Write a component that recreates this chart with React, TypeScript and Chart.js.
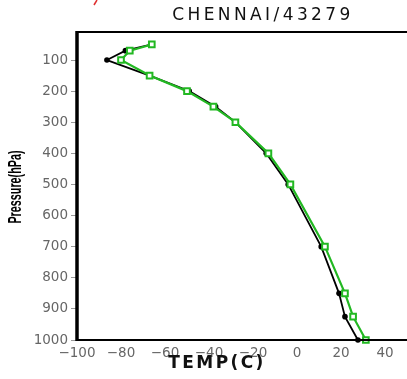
import React, { useEffect, useRef } from "react";
import { Chart, registerables } from "chart.js";

Chart.register(...registerables);

const TITLE = "CHENNAI/43279";
const X_TITLE = "TEMP(C)";
const Y_TITLE = "Pressure(hPa)";

const GREEN_P = [50, 70, 100, 150, 200, 250, 300, 400, 500, 700, 850, 925, 1000];
const GREEN_T = [-66, -76, -80, -67, -50, -38, -28, -13, -3, 12.7, 21.8, 25.5, 31.3];

const BLACK_P = [50, 70, 100, 150, 200, 250, 300, 400, 500, 700, 850, 925, 1000];
const BLACK_T = [-66, -78, -86.4, -67, -49, -37, -28, -14, -4, 11, 19.1, 21.8, 27.7];

const X_TICKS = [-100, -80, -60, -40, -20, 0, 20, 40];
const Y_TICKS = [100, 200, 300, 400, 500, 600, 700, 800, 900, 1000];

const framePlugin = {
  id: "frame",
  afterDraw(chart: any) {
    const { ctx, chartArea } = chart;
    const { left, right, top, bottom } = chartArea;
    ctx.save();
    ctx.strokeStyle = "#000";
    ctx.lineWidth = 2;
    ctx.beginPath();
    ctx.moveTo(left, top);
    ctx.lineTo(right, top);
    ctx.moveTo(left, bottom);
    ctx.lineTo(right, bottom);
    ctx.stroke();
    ctx.lineWidth = 3.5;
    ctx.beginPath();
    ctx.moveTo(left, top - 1);
    ctx.lineTo(left, bottom + 1);
    ctx.stroke();

    ctx.fillStyle = "#111";
    ctx.font = "17px 'DejaVu Sans'";
    (ctx as any).letterSpacing = "3.4px";
    ctx.textAlign = "center";
    ctx.textBaseline = "middle";
    ctx.fillText(TITLE, 263, 16);

    ctx.font = "bold 17px 'DejaVu Sans'";
    (ctx as any).letterSpacing = "2.4px";
    ctx.fillText(X_TITLE, 217, 364);

    (ctx as any).letterSpacing = "0px";
    ctx.fillStyle = "#000";
    ctx.translate(16, 187);
    ctx.rotate(-Math.PI / 2);
    ctx.scale(0.72, 1.25);
    ctx.font = "bold 15px 'Liberation Sans'";
    ctx.fillText(Y_TITLE, 0, 0);
    ctx.restore();

    ctx.save();
    ctx.strokeStyle = "#e03030";
    ctx.lineWidth = 1.5;
    ctx.beginPath();
    ctx.moveTo(97, 0);
    ctx.lineTo(94, 5);
    ctx.stroke();
    ctx.restore();
  },
};

export default function App() {
  const ref = useRef<HTMLCanvasElement | null>(null);
  useEffect(() => {
    if (!ref.current) return;
    const chart = new Chart(ref.current, {
      type: "scatter",
      data: {
        datasets: [
          {
            label: "green",
            data: GREEN_P.map((p, i) => ({ x: GREEN_T[i], y: p })),
            showLine: true,
            clip: false,
            borderColor: "#22b822",
            borderWidth: 2.2,
            pointStyle: "rect",
            pointRadius: 4,
            pointBorderWidth: 2,
            pointBackgroundColor: "#ffffff",
            pointBorderColor: "#22b822",
          },
          {
            label: "black",
            data: BLACK_P.map((p, i) => ({ x: BLACK_T[i], y: p })),
            showLine: true,
            clip: false,
            borderColor: "#000000",
            borderWidth: 1.8,
            pointStyle: "circle",
            pointRadius: 2.8,
            pointBorderWidth: 0,
            pointBackgroundColor: "#000000",
          },
        ],
      },
      options: {
        animation: false,
        responsive: false,
        maintainAspectRatio: false,
        layout: { autoPadding: false, padding: { top: 32, left: 0, right: 0, bottom: 0 } },
        plugins: { legend: { display: false }, tooltip: { enabled: false }, title: { display: false } },
        scales: {
          x: {
            type: "linear",
            min: -100,
            max: 50,
            afterBuildTicks: (s: any) => {
              s.ticks = X_TICKS.map((v) => ({ value: v }));
            },
            afterFit: (s: any) => {
              s.height = 39;
              s.paddingRight = 0;
              s.paddingLeft = 0;
            },
            border: { display: false },
            grid: { drawOnChartArea: false, drawTicks: false },
            ticks: {
              padding: 5,
              color: "#666",
              font: { family: "'DejaVu Sans'", size: 13.5 },
              maxRotation: 0,
              autoSkip: false,
              callback: (v: any) => (Number(v) < 0 ? "\u2212" + Math.abs(Number(v)) : String(v)),
            },
          },
          y: {
            type: "linear",
            reverse: true,
            min: 10,
            max: 1000,
            afterBuildTicks: (s: any) => {
              s.ticks = Y_TICKS.map((v) => ({ value: v }));
            },
            afterFit: (s: any) => {
              s.width = 77;
              s.paddingTop = 0;
              s.paddingBottom = 0;
            },
            border: { display: false },
            grid: { drawOnChartArea: false, drawTicks: true, tickLength: 6, color: "#999" },
            ticks: {
              padding: 3,
              color: "#666",
              font: { family: "'DejaVu Sans'", size: 13.5 },
              autoSkip: false,
              callback: (v: any) => String(v),
            },
          },
        },
      },
      plugins: [framePlugin],
    });
    return () => chart.destroy();
  }, []);
  return (
    <div style={{ position: "absolute", left: 0, top: 0, width: 407, height: 379, background: "#fff" }}>
      <canvas ref={ref} width={407} height={379} style={{ width: 407, height: 379, display: "block" }} />
    </div>
  );
}
